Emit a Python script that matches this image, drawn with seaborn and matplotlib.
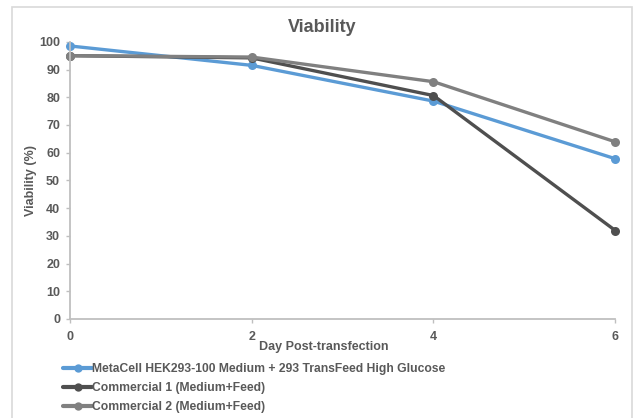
import matplotlib
matplotlib.use("Agg")
import matplotlib.pyplot as plt
import seaborn as sns
import pandas as pd
from matplotlib.patches import Rectangle
from matplotlib.lines import Line2D

days = [0, 2, 4, 6]
series_names = [
    "MetaCell HEK293-100 Medium + 293 TransFeed High Glucose",
    "Commercial 1 (Medium+Feed)",
    "Commercial 2 (Medium+Feed)",
]
metacell = [98.5, 91.5, 78.6, 57.8]
commercial1 = [95.0, 94.2, 80.6, 31.9]
commercial2 = [95.0, 94.5, 85.6, 63.9]
colors = ["#5B9BD5", "#4F4F4F", "#808080"]

rows = []
for name, vals in zip(series_names, [metacell, commercial1, commercial2]):
    for d, v in zip(days, vals):
        rows.append({"Day": d, "Viability": v, "Series": name})
df = pd.DataFrame(rows)

sns.set_theme(style="white")
plt.rcParams['font.family'] = ['Liberation Sans', 'DejaVu Sans']

fig = plt.figure(figsize=(6.35, 4.18), dpi=100)
ax = fig.add_axes([0.110, 0.237, 0.859, 0.663])

sns.lineplot(data=df, x="Day", y="Viability", hue="Series", palette=colors,
             marker="o", markersize=6.5, linewidth=2.4, markeredgewidth=0,
             ax=ax, legend=False)
for ln in ax.lines:
    ln.set_clip_on(False)

ax.set_xlim(0, 6)
ax.set_ylim(0, 100)
ax.set_xticks([0, 2, 4, 6])
ax.set_yticks(range(0, 101, 10))
for s in ["top", "right"]:
    ax.spines[s].set_visible(False)
for s in ["left", "bottom"]:
    ax.spines[s].set_color("#BFBFBF")
    ax.spines[s].set_linewidth(1.3)
ax.tick_params(axis="both", which="both", length=3, width=1, color="#BFBFBF",
               labelsize=9, labelcolor="#595959", direction="out", bottom=True, left=True)
for lab in ax.get_xticklabels() + ax.get_yticklabels():
    lab.set_fontweight("bold")
ax.tick_params(axis="x", pad=6)
ax.tick_params(axis="y", pad=4)

ax.set_xlabel("Day Post-transfection", fontsize=9, fontweight="bold", color="#595959")
ax.xaxis.set_label_coords(0.465, -0.08)
ax.set_ylabel("Viability (%)", fontsize=9, fontweight="bold", color="#595959")
ax.yaxis.set_label_coords(-0.06, 0.5)
fig.text(0.507, 0.935, "Viability", ha="center", va="center", fontsize=13,
         fontweight="bold", color="#595959")

handles = [Line2D([0], [0], color=c, lw=3, marker="o", markersize=6, markeredgewidth=0)
           for c in colors]
leg = fig.legend(handles, series_names, loc="upper left", bbox_to_anchor=(0.092, 0.142),
                 frameon=False, handlelength=2.4, handletextpad=0.0, labelspacing=0.55,
                 borderaxespad=0, fontsize=8.7)
for t in leg.get_texts():
    t.set_color("#595959")
    t.set_fontweight("bold")

fig.patches.append(Rectangle((12 / 635, -0.05), 620 / 635, 1 - 7 / 418 + 0.05,
                             transform=fig.transFigure, fill=False,
                             edgecolor="#D9D9D9", linewidth=1.2))

fig.savefig("out.png", dpi=100)
